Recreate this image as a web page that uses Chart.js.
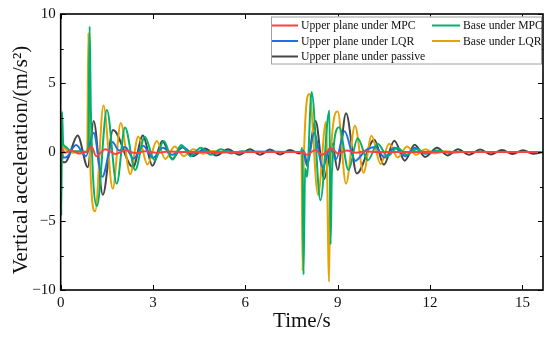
<!DOCTYPE html>
<html><head><meta charset="utf-8">
<script src="https://cdn.jsdelivr.net/npm/chart.js@4.4.1/dist/chart.umd.min.js"></script>
<style>html,body{margin:0;padding:0;background:#fff;}#wrap{width:550px;height:339px;}</style>
</head><body><div id="wrap"><canvas id="c" width="550" height="339"></canvas></div>
<script>
// ---- data ----
const seriesLabels = ["Upper plane under MPC","Base under MPC","Upper plane under LQR","Base under LQR","Upper plane under passive"];
const xTicks = [0,3,6,9,12,15];
const yTicks = [-10,-5,0,5,10];
const yMinorTicks = [-7.5,-2.5,2.5,7.5];
const xTitle = "Time/s";
const yTitle = "Vertical acceleration/(m/s\u00b2)";

const tUpperMPC = [0,0.05,0.15,0.35,0.6,0.85,1.0,1.15,1.45,1.78,2.1,2.42,2.75,3.1,3.5,4.0,7.85,8.0,8.27,8.48,8.8,9.0,9.3,9.6,9.9,10.3,15.67];
const vUpperMPC = [0,0.15,-0.05,0.1,-0.1,0.05,0.4,-0.3,0.2,-0.15,0.12,-0.08,0.06,-0.05,0.03,0,0,-0.2,0.15,-0.2,0.25,-0.1,0.1,-0.05,0.05,0,0];

const tUpperLQR = [0,0.1,0.2,0.5,0.82,1.07,1.35,1.68,1.9,2.09,2.37,2.68,3.0,3.32,3.63,3.97,4.3,4.65,5.0,5.4,5.8,6.2,7.8,7.88,8.0,8.23,8.52,8.75,8.95,9.22,9.57,9.9,10.23,10.52,10.85,11.2,11.5,11.85,12.2,12.6,13.0,15.67];
const vUpperLQR = [0,-0.4,-0.35,0.5,-0.3,1.4,-1.8,0.72,0.1,0.36,-0.48,0.46,-0.43,0.3,-0.2,0.36,-0.15,0.1,-0.08,0.06,-0.05,0.04,0,0.1,-1.0,1.37,-1.1,0.3,-0.5,1.5,-0.63,0.1,0.36,-0.4,0.3,-0.3,0.3,-0.12,0.06,-0.04,0,0];

const tPassive = [0,0.05,0.15,0.25,0.55,0.88,1.07,1.37,1.7,2.35,2.67,2.98,3.3,3.62,3.95,4.3,4.69,5.05,5.44,5.8,6.15,6.48,6.8,7.13,7.45,7.75,7.9,8.0,8.28,8.56,8.82,9.0,9.27,9.62,10.19,10.5,10.84,11.18,11.5,11.84,12.23,12.57,12.91,13.27,13.63,13.98,14.34,14.68,15.02,15.35,15.67];
const vPassive = [0,-0.7,-0.75,-0.4,1.2,-1.1,2.25,-3.1,1.6,-1.1,1.2,-1.0,0.8,-0.5,0.35,-0.3,0.25,-0.25,0.2,-0.2,0.2,-0.2,0.18,-0.18,0.15,-0.1,0.1,-0.8,2.25,-1.95,0.6,-1.3,2.8,-1.55,0.89,-0.92,0.82,-0.63,0.53,-0.36,0.3,-0.25,0.2,-0.2,0.18,-0.18,0.15,-0.15,0.12,-0.12,0];

const tBaseMPC = [0,0.02,0.045,0.08,0.15,0.3,0.5,0.85,0.9,0.94,0.98,1.18,1.5,1.82,2.09,2.42,2.73,3.05,3.35,3.63,3.92,4.22,4.55,4.88,5.2,5.55,5.9,6.3,7.8,7.85,7.89,7.94,8.0,8.15,8.44,8.73,8.77,8.81,9.05,9.35,9.65,9.98,10.3,10.62,10.93,11.25,11.55,11.9,12.25,12.6,13.0,15.67];
const vBaseMPC = [0,-4.6,2.9,0.6,0.4,0.1,0.05,0,0.5,9.1,3.0,-3.9,3.05,-2.3,1.78,-1.3,1.1,-0.6,0.8,-0.55,0.5,-0.3,0.3,-0.2,0.2,-0.1,0.05,0,0,0.3,-8.9,-1.2,-1.8,4.35,-3.5,3.0,-6.7,-1.5,1.8,-1.3,1.0,-0.6,0.6,-0.3,0.3,-0.2,0.2,-0.1,0.1,-0.05,0,0];

const tBaseLQR = [0,0.02,0.05,0.1,0.2,0.4,0.6,0.86,0.9,0.94,1.12,1.39,1.69,1.95,2.26,2.52,2.82,3.12,3.4,3.7,4.0,4.3,4.62,4.95,5.3,5.7,7.82,7.86,7.9,8.08,8.36,8.62,8.72,8.76,9.0,9.27,9.56,9.84,10.1,10.39,10.67,10.95,11.25,11.55,11.85,12.15,12.5,12.9,15.67];
const vBaseLQR = [0,1.7,-0.7,0.4,0.1,-0.05,0.05,0,8.65,0.5,-4.3,3.37,-2.67,2.1,-1.6,1.13,-0.9,0.8,-0.5,0.4,-0.3,0.2,-0.12,0.08,-0.05,0,0,-8.6,-0.5,4.2,-3.1,2.2,-9.4,-1.0,2.94,-2.3,1.9,-1.5,1.18,-0.87,0.6,-0.4,0.4,-0.2,0.2,-0.1,0.05,0,0];

const colors = ["#ff4040","#00b06e","#1d6fe6","#e8a202","#454545"];
const tSets = [tUpperMPC,tBaseMPC,tUpperLQR,tBaseLQR,tPassive];
const vSets = [vUpperMPC,vBaseMPC,vUpperLQR,vBaseLQR,vPassive];

const SERIF = "'Liberation Serif','Times New Roman',serif";

const datasets = tSets.map((ts,i)=>({
  label: seriesLabels[i],
  data: ts.map((t,k)=>({x:t,y:vSets[i][k]})),
  borderColor: colors[i],
  backgroundColor: colors[i],
  borderWidth: 2,
  pointRadius: 0,
  showLine: true,
  fill: false,
  cubicInterpolationMode: 'monotone'
}));

// legend layout: [column, row]
const legendPos = [[0,0],[1,0],[0,1],[1,1],[0,2]];

const framePlugin = {
  id:'frame',
  afterDatasetsDraw(chart){
    const {ctx, chartArea:a, scales:{x,y}} = chart;
    ctx.save();
    ctx.strokeStyle='#000';
    ctx.lineWidth=1;
    ctx.beginPath();
    xTicks.forEach(v=>{const px=Math.round(x.getPixelForValue(v))+0.5;
      ctx.moveTo(px,a.bottom); ctx.lineTo(px,a.bottom-5);
      ctx.moveTo(px,a.top); ctx.lineTo(px,a.top+5);});
    yTicks.forEach(v=>{const py=Math.round(y.getPixelForValue(v))+0.5;
      ctx.moveTo(a.left,py); ctx.lineTo(a.left+5,py);
      ctx.moveTo(a.right,py); ctx.lineTo(a.right-5,py);});
    yMinorTicks.forEach(v=>{const py=Math.round(y.getPixelForValue(v))+0.5;
      ctx.moveTo(a.left,py); ctx.lineTo(a.left+3,py);
      ctx.moveTo(a.right,py); ctx.lineTo(a.right-3,py);});
    ctx.stroke();
    ctx.lineWidth=1.6;
    ctx.strokeRect(a.left,a.top,a.right-a.left,a.bottom-a.top);
    // legend
    const bx=271, by=16.5, bw=270, bh=47;
    ctx.fillStyle='#fff';
    ctx.fillRect(bx,by,bw,bh);
    ctx.strokeStyle='#a0a0a0'; ctx.lineWidth=1;
    ctx.strokeRect(bx+0.5,by+0.5,bw,bh);
    const colX=[[272,298,301],[432,460,463]];
    const rowY=[25.5,41,56.5];
    ctx.font = "11.7px "+SERIF;
    ctx.textBaseline='middle';
    ctx.textAlign='left';
    datasets.forEach((d,i)=>{
      const [c,r]=legendPos[i];
      const yy=rowY[r];
      ctx.strokeStyle=colors[i]; ctx.lineWidth=2;
      ctx.beginPath(); ctx.moveTo(colX[c][0],yy); ctx.lineTo(colX[c][1],yy); ctx.stroke();
      ctx.fillStyle='#111';
      ctx.fillText(d.label,colX[c][2],yy+0.5);
    });
    // y axis title
    ctx.save();
    ctx.translate(27,160);
    ctx.rotate(-Math.PI/2);
    ctx.font = "21px "+SERIF;
    ctx.fillStyle='#111';
    ctx.textAlign='center';
    ctx.textBaseline='alphabetic';
    ctx.fillText(yTitle,0,0);
    ctx.restore();
    ctx.restore();
  }
};

new Chart(document.getElementById('c'),{
  type:'scatter',
  data:{datasets},
  plugins:[framePlugin],
  options:{
    responsive:false,
    animation:false,
    devicePixelRatio:1,
    layout:{padding:{top:12,right:7,left:0,bottom:0}},
    plugins:{legend:{display:false},tooltip:{enabled:false}},
    scales:{
      x:{type:'linear',min:0,max:15.67,
        afterBuildTicks(s){s.ticks=xTicks.map(v=>({value:v}));},
        afterFit(s){s.height=49;},
        grid:{display:false,drawTicks:false},
        border:{display:false},
        ticks:{color:'#111',font:{family:SERIF,size:15},padding:4,maxRotation:0,autoSkip:false},
        title:{display:true,text:xTitle,color:'#111',font:{family:SERIF,size:21},padding:{top:0,bottom:5}}
      },
      y:{type:'linear',min:-10,max:10,
        afterBuildTicks(s){s.ticks=yTicks.map(v=>({value:v}));},
        afterFit(s){s.width=60.7;},
        grid:{display:false,drawTicks:false},
        border:{display:false},
        ticks:{color:'#111',font:{family:SERIF,size:15},padding:5,autoSkip:false,
          callback:(v)=>String(v).replace('-','\u2212')},
        title:{display:false}
      }
    }
  }
});
</script></body></html>
